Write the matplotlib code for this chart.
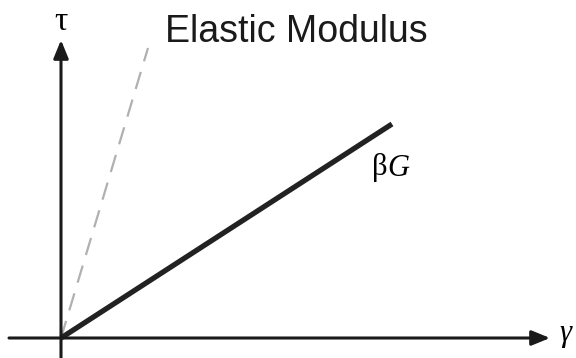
import matplotlib.pyplot as plt

# schematic shear stress (tau) vs shear strain (gamma), origin at (0, 0)
elastic_gamma = [0, 87]
elastic_tau = [0, 290]
reduced_gamma = [0, 331]
reduced_tau = [0, 214]

fig = plt.figure(figsize=(5.76, 3.58), dpi=100)
ax = fig.add_axes([0, 0, 1, 1])
ax.set_xlim(-61, 515)
ax.set_ylim(-20, 338)
ax.axis('off')

# axes with arrows
arrow = dict(arrowstyle='-|>,head_length=1.1,head_width=0.45', lw=2.2,
             color='#1a1a1a', shrinkA=0, shrinkB=0)
ax.annotate('', xy=(489, 0), xytext=(-52, 0), arrowprops=arrow)
ax.annotate('', xy=(0, 298), xytext=(0, -20), arrowprops=arrow)

# lines
ax.plot(elastic_gamma, elastic_tau, color='#b0b0b0', lw=1.6, dashes=(8, 5))
ax.plot(reduced_gamma, reduced_tau, color='#222222', lw=3.8, solid_capstyle='butt')

# labels
serif = 'Liberation Serif'
ax.text(0, 316, 'τ', family=serif, fontsize=24, ha='center', va='center')
ax.text(504, 4, 'γ', family=serif, fontsize=22, ha='center', va='center', style='italic')
ax.text(104, 306, 'Elastic Modulus', family='Liberation Sans', fontsize=27,
        ha='left', va='center', color='#1a1a1a')
ax.text(311, 170, 'β', family=serif, fontsize=22, ha='left', va='center')
ax.text(326, 170, 'G', family=serif, fontsize=22, ha='left', va='center', style='italic')

fig.savefig('out.png', dpi=100)
